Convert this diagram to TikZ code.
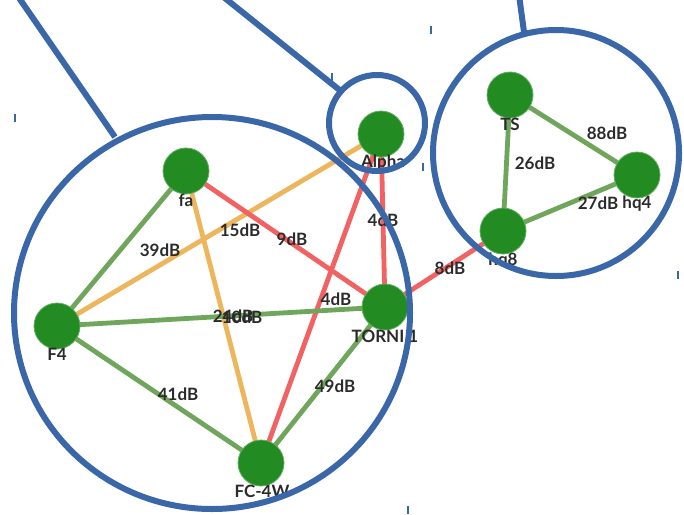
\documentclass[tikz,border=0pt]{standalone}
\usepackage{fontspec}
\setmainfont{Lato}
\definecolor{nodegreen}{HTML}{228B22}
\definecolor{egreen}{HTML}{6FA65C}
\definecolor{eorange}{HTML}{EDB65C}
\definecolor{ered}{HTML}{F26262}
\definecolor{ringblue}{HTML}{3A67A8}
\definecolor{txt}{HTML}{2B2B2B}
\tikzset{
  vtx/.style={circle, fill=nodegreen, draw=nodegreen!70!white, line width=0.8pt, minimum size=46pt, inner sep=0pt},
  vlab/.style={font=\fontsize{17}{17}\selectfont\bfseries, text=txt, inner sep=0pt, anchor=center},
  elab/.style={font=\fontsize{17}{17}\selectfont\bfseries, text=txt, inner sep=0pt, anchor=center},
  ge/.style={draw=egreen, line width=4.8pt},
  oe/.style={draw=eorange, line width=4.8pt},
  re/.style={draw=ered, line width=4.8pt},
  ring/.style={draw=ringblue, line width=6pt},
  tick/.style={draw=ringblue, line width=1.5pt}
}
\begin{document}
\begin{tikzpicture}[x=1pt,y=-1pt]
\useasboundingbox (0,0) rectangle (684,514);
\fill[white] (0,0) rectangle (684,514);
% nodes positions
\coordinate (pfa) at (186,171);
\coordinate (pAl) at (381,134);
\coordinate (pTo) at (385,307);
\coordinate (pF4) at (57,326);
\coordinate (pFC) at (261,463);
\coordinate (pTS) at (510,95);
\coordinate (phq4) at (637,175);
\coordinate (phq8) at (503,231);
% edges
\draw[ge] (pfa) -- (pF4);
\draw[oe] (pfa) -- (pFC);
\draw[oe] (pF4) -- (pAl);
\draw[re] (pfa) -- (pTo);
\draw[re] (pAl) -- (pTo);
\draw[re] (pAl) -- (pFC);
\draw[ge] (pF4) -- (pTo);
\draw[ge] (pF4) -- (pFC);
\draw[ge] (pTo) -- (pFC);
\draw[re] (pTo) -- (phq8);
\draw[ge] (pTS) -- (phq8);
\draw[ge] (pTS) -- (phq4);
\draw[ge] (phq8) -- (phq4);
% vertices
\node[vtx] (fa) at (pfa) {};
\node[vtx] (Al) at (pAl) {};
\node[vtx] (To) at (pTo) {};
\node[vtx] (F4) at (pF4) {};
\node[vtx] (FC) at (pFC) {};
\node[vtx] (TS) at (pTS) {};
\node[vtx] (hq4) at (phq4) {};
\node[vtx] (hq8) at (phq8) {};
% vertex labels
\node[vlab] (lfa) at (186,200) {fa};
\node[vlab] (lAl) at (383,163) {Alpha};
\node[vlab] (lTo) at (385,336) {TORNI 1};
\node[vlab] (lF4) at (57,354) {F4};
\node[vlab] (lFC) at (262,491) {FC-4W};
\node[vlab] (lTS) at (510,124) {TS};
\node[vlab] (lhq4) at (637,204) {hq4};
\node[vlab] (lhq8) at (503,261) {hq8};
% edge labels
\node[elab] (e1) at (160,250) {39dB};
\node[elab] (e2) at (240,230) {15dB};
\node[elab] (e3) at (292,239) {9dB};
\node[elab] (e4) at (383,220) {4dB};
\node[elab] (e5) at (336,299) {4dB};
\node[elab] (e6) at (233,316) {24dB};
\node[elab] (e7) at (242,317) {10dB};
\node[elab] (e8) at (178,394) {41dB};
\node[elab] (e9) at (335,386) {49dB};
\node[elab] (e10) at (450,268) {8dB};
\node[elab] (e11) at (535,163) {26dB};
\node[elab] (e12) at (607,133) {88dB};
\node[elab] (e13) at (598,203) {27dB};
% rings
\draw[ring] (212,313) ellipse [x radius=198, y radius=196];
\draw[ring] (377,123) circle [radius=48];
\draw[ring] (556,153) circle [radius=123];
\coordinate (t1) at (17,-5);
\coordinate (b1) at (115,137);
\coordinate (t2) at (221,-5);
\coordinate (b2) at (342,92);
\coordinate (t3) at (519,-5);
\coordinate (b3) at (524,32);
\draw[ring] (t1) -- (b1);
\draw[ring] (t2) -- (b2);
\draw[ring] (t3) -- (b3);
% ticks
\draw[tick] (15,114) -- (15,122);
\draw[tick] (332,73) -- (332,81);
\draw[tick] (431,26) -- (431,34);
\draw[tick] (423,163) -- (423,171);
\draw[tick] (678,271) -- (678,279);
\draw[tick] (408,506) -- (408,514);
\end{tikzpicture}
\end{document}
